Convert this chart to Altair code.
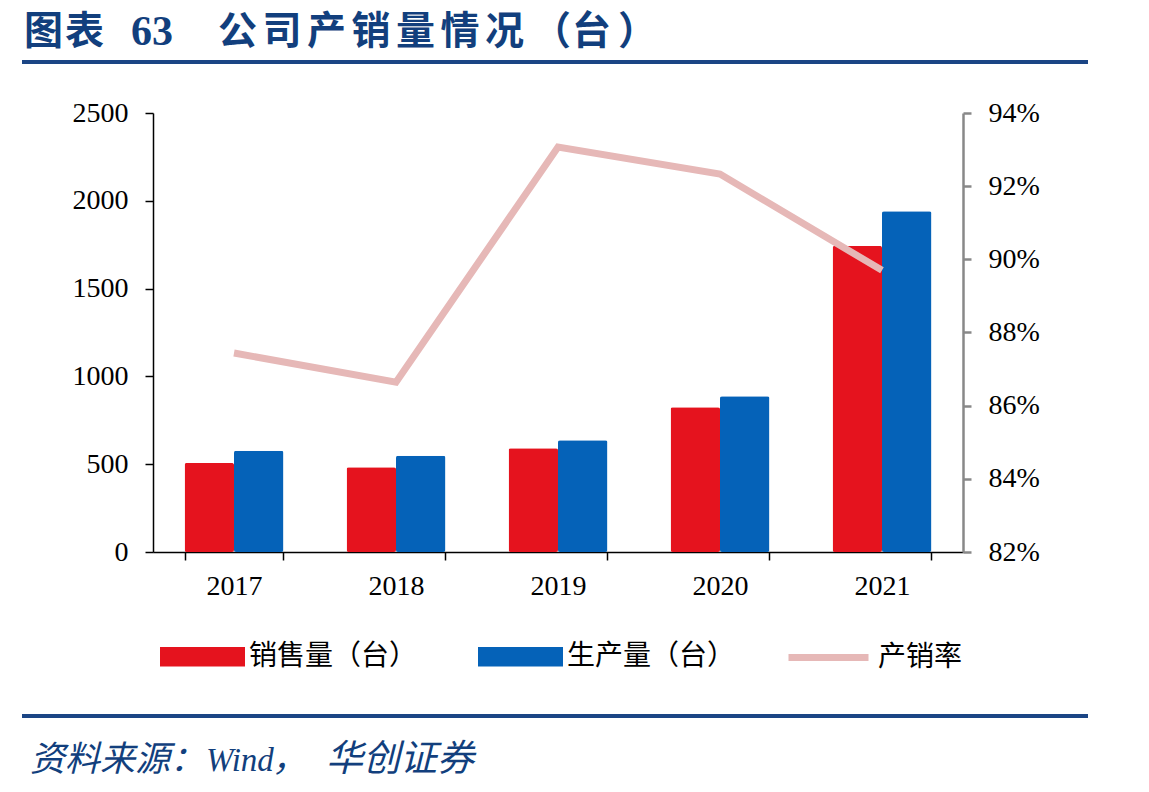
import altair as alt
import pandas as pd

years = ["2017", "2018", "2019", "2020", "2021"]
sales = [507, 483, 591, 825, 1743]
production = [576, 548, 637, 887, 1941]
rate = [0.8744, 0.8664, 0.9307, 0.9233, 0.8970]

s_sales = "销售量（台）"
s_prod = "生产量（台）"
s_rate = "产销率"

title_a = "图表"
title_b = "63"
title_c = "公司产销量情况"
title_d = ["（", "台", "）"]
src_a = "资料来源："
src_b = "Wind"
src_c = "，"
src_d = "华创证券"

RED = "#E5131E"
BLUE = "#0562B8"
PINK = "#E6B8B7"
NAVY = "#123F7D"

bars_df = pd.DataFrame({
    "year": years * 2,
    "series": [s_sales] * 5 + [s_prod] * 5,
    "value": sales + production,
})
line_df = pd.DataFrame({"year": years, "rate": rate, "name": [s_rate] * 5})

W, H = 810, 439
L, T = 153, 113
AX_FS = 28

xscale = alt.Scale(domain=years, paddingInner=0.39, paddingOuter=0.195)
xaxis = alt.Axis(title=None, domainColor="black", domainWidth=1.5, tickColor="black",
                 tickWidth=1.5, tickSize=8, tickBand="extent", labelFont="Liberation Serif",
                 labelFontSize=AX_FS, labelColor="black", labelPadding=12, labelAngle=0, grid=False)

bars = alt.Chart(bars_df).mark_bar(cornerRadius=2).encode(
    x=alt.X("year:N", scale=xscale, axis=xaxis),
    xOffset=alt.XOffset("series:N", sort=[s_sales, s_prod],
                        scale=alt.Scale(domain=[s_sales, s_prod], paddingInner=0, paddingOuter=0)),
    y=alt.Y("value:Q", scale=alt.Scale(domain=[0, 2500], nice=False),
            axis=alt.Axis(title=None, values=[0, 500, 1000, 1500, 2000, 2500], grid=False,
                          format="d",
                          domainColor="black", domainWidth=1.5, tickColor="black", tickWidth=1.5,
                          tickSize=8, labelFont="Liberation Serif", labelFontSize=AX_FS,
                          labelColor="black", labelPadding=17)),
    fill=alt.Fill("series:N", scale=alt.Scale(domain=[s_sales, s_prod], range=[RED, BLUE]),
                  legend=alt.Legend(title=None, orient="none", legendX=7, legendY=501,
                                    direction="horizontal", padding=0,
                                    symbolType="M-1,-0.23H1V0.23H-1Z", symbolSize=7225,
                                    symbolStrokeWidth=0, symbolOpacity=1,
                                    labelFont="Noto Sans CJK SC", labelFontSize=28,
                                    labelColor="black", labelOffset=4, columnPadding=60,
                                    labelLimit=400)),
)

line = alt.Chart(line_df).mark_line(strokeWidth=7, strokeCap="butt").encode(
    x=alt.X("year:N", scale=xscale, axis=xaxis),
    y=alt.Y("rate:Q", scale=alt.Scale(domain=[0.82, 0.94], nice=False),
            axis=alt.Axis(title=None, orient="right", format=".0%",
                          values=[0.82, 0.84, 0.86, 0.88, 0.90, 0.92, 0.94], grid=False,
                          domainColor="#888888", domainWidth=2.5, tickColor="#888888",
                          tickWidth=2.5, tickSize=8, labelFont="Liberation Serif",
                          labelFontSize=AX_FS, labelColor="black", labelPadding=17)),
    stroke=alt.Stroke("name:N", scale=alt.Scale(domain=[s_rate], range=[PINK]),
                      legend=alt.Legend(title=None, orient="none", legendX=632, legendY=501,
                                        padding=0, symbolType="stroke", symbolSize=6400,
                                        symbolStrokeWidth=7,
                                        labelFont="Noto Sans CJK SC", labelFontSize=28,
                                        labelColor="black", labelOffset=6, labelLimit=400)),
)


def text_layer(txt, x, y, font, size, weight="normal", style="normal"):
    return alt.Chart(pd.DataFrame({"t": [txt]})).mark_text(
        align="left", baseline="middle", font=font, fontWeight=weight, fontStyle=style,
        fontSize=size, color=NAVY
    ).encode(text="t:N", x=alt.value(x - L), y=alt.value(y - T))


TY = 32
title_layers = [
    text_layer(title_a[0], 24, TY, "Noto Sans CJK SC", 39, "bold"),
    text_layer(title_a[1], 65, TY, "Noto Sans CJK SC", 39, "bold"),
    text_layer(title_b, 131, TY, "Liberation Serif", 42, "bold"),
]
for i, ch in enumerate(title_c):
    title_layers.append(text_layer(ch, 218 + 44.5 * i, TY, "Noto Sans CJK SC", 39, "bold"))
for ch, x in zip(title_d, [532, 572, 618]):
    title_layers.append(text_layer(ch, x, TY, "Noto Sans CJK SC", 39, "bold"))

source_layers = [
    text_layer(src_a, 30, 760, "Noto Sans CJK SC", 35, "normal", "italic"),
    text_layer(src_b, 206, 761, "Liberation Serif", 33, "normal", "italic"),
    text_layer(src_c, 272, 760, "Noto Sans CJK SC", 35, "normal", "italic"),
    text_layer(src_d, 326, 760, "Noto Sans CJK SC", 37, "normal", "italic"),
]

top_rule = alt.Chart(pd.DataFrame({"k": [1]})).mark_rule(color="#1B4585", strokeWidth=4).encode(
    x=alt.value(22 - L), x2=alt.value(1088 - L), y=alt.value(62 - T))
bottom_rule = alt.Chart(pd.DataFrame({"k": [1]})).mark_rule(color="#1B4585", strokeWidth=4).encode(
    x=alt.value(22 - L), x2=alt.value(1088 - L), y=alt.value(716 - T))

chart = alt.layer(bars, line, *title_layers, top_rule, bottom_rule, *source_layers).resolve_scale(
    y="independent", fill="independent", stroke="independent"
).properties(
    width=W, height=H,
    autosize=alt.AutoSizeParams(type="none"),
    padding={"left": L, "top": T, "right": 1149 - L - W, "bottom": 792 - T - H},
).configure_view(stroke=None)

chart.save("out.html", embed_options={"renderer": "svg", "actions": False})
